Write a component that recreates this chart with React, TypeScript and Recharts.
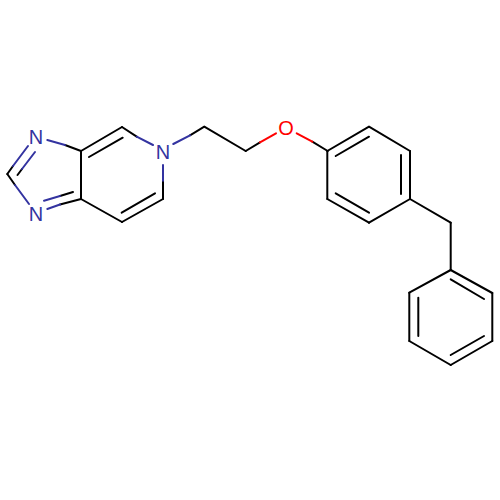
import React from "react";
import { ComposedChart, Line, Scatter, XAxis, YAxis } from "recharts";

type Seg = [number, number, number, number];

const blackBonds: Seg[] = [
  [65, 145, 81, 151],
  [60, 196, 73, 192],
  [60, 204.5, 81, 199],
  [7.3, 174, 15, 185],
  [7.3, 174, 13, 166],
  [17.5, 175, 22, 169],
  [81, 151, 122, 127],
  [89, 157, 122.7, 137.7],
  [122, 127, 136.7, 136.7],
  [163, 180.7, 163, 199],
  [163, 199, 122, 222],
  [155, 193.3, 121.7, 212.7],
  [122, 222, 81, 199],
  [81, 151, 81, 199],
  [190, 135.3, 204.3, 126.7],
  [204.3, 126.7, 245.7, 151],
  [245.7, 151, 260, 142.3],
  [312.3, 141.7, 327.7, 151],
  [327.3, 151, 369, 126.7],
  [335.7, 156, 369, 136.7],
  [369, 126.7, 410, 151],
  [410, 151, 410, 199],
  [401, 155, 401, 194],
  [410, 199, 369, 222.7],
  [369, 222.7, 327.3, 199],
  [335.7, 193.3, 369, 212.7],
  [327.3, 199, 327.3, 151],
  [410, 199, 450.7, 222.7],
  [450.7, 222.7, 450.7, 270],
  [450.7, 270, 492.3, 293],
  [450.7, 279.3, 484, 299],
  [492.3, 293, 492.3, 341],
  [492.3, 341, 450.7, 365],
  [484, 336, 450.7, 355],
  [450.7, 365, 409.3, 341],
  [409.3, 341, 409.3, 292.7],
  [418.3, 297.7, 418.3, 336],
  [409.3, 292.7, 450.7, 270],
];

const blueBonds: Seg[] = [
  [47.3, 140, 65, 145],
  [44, 200.7, 60, 196],
  [47.3, 209, 60, 204.5],
  [15, 185, 29, 204],
  [13, 166, 28, 146],
  [22, 169, 35, 152],
  [136.7, 136.7, 153, 145],
  [163, 165, 163, 180.7],
  [173.3, 144, 190, 135.3],
];

const redBonds: Seg[] = [
  [260, 142.3, 276, 133.3],
  [296.7, 133.3, 312.3, 141.7],
];

const nitrogenAtoms = [
  { x: 36, y: 137 },
  { x: 36, y: 214 },
  { x: 163, y: 152 },
];
const oxygenAtoms = [{ x: 286, y: 128 }];

const BLUE = "#3333a0";
const RED = "#ff0000";
const BLACK = "#000000";

const atomShape = (label: string, color: string) => (p: any) => (
  <text
    x={p.cx}
    y={p.cy}
    textAnchor="middle"
    dominantBaseline="central"
    fontFamily="Liberation Sans"
    fontSize={20}
    fill={color}
  >
    {label}
  </text>
);

const bondLines = (segs: Seg[], color: string, name: string) =>
  segs.map(([x1, y1, x2, y2], i) => (
    <Line
      key={`${name}${i}`}
      data={[
        { x: x1, y: y1 },
        { x: x2, y: y2 },
      ]}
      dataKey="y"
      stroke={color}
      strokeWidth={2}
      strokeLinecap="round"
      dot={false}
      activeDot={false}
      legendType="none"
      isAnimationActive={false}
    />
  ));

export default function App() {
  return (
    <div style={{ position: "absolute", left: 0, top: 0, width: 500, height: 500, background: "#fff" }}>
      <ComposedChart width={500} height={500} margin={{ top: 0, right: 0, bottom: 0, left: 0 }}>
        <XAxis type="number" dataKey="x" domain={[0, 500]} hide />
        <YAxis type="number" dataKey="y" domain={[0, 500]} reversed hide />
        {bondLines(blackBonds, BLACK, "k")}
        {bondLines(blueBonds, BLUE, "b")}
        {bondLines(redBonds, RED, "r")}
        <Scatter data={nitrogenAtoms} dataKey="y" shape={atomShape("N", BLUE)} isAnimationActive={false} />
        <Scatter data={oxygenAtoms} dataKey="y" shape={atomShape("O", RED)} isAnimationActive={false} />
      </ComposedChart>
    </div>
  );
}
